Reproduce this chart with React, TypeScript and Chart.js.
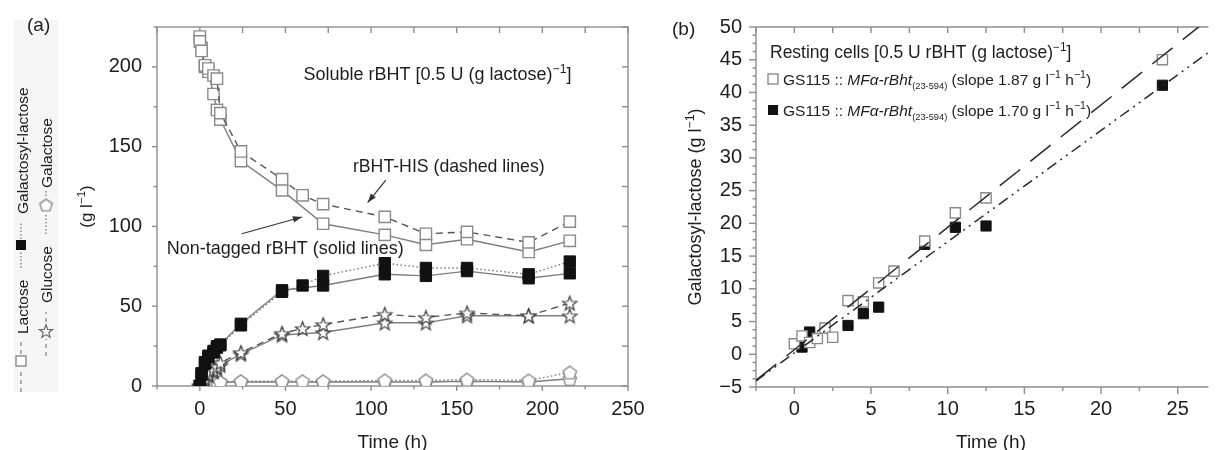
import React, { useEffect, useRef } from 'react';
import { Chart, registerables } from 'chart.js';

Chart.register(...registerables);

const FONT = '"Liberation Sans", Arial, Helvetica, sans-serif';
const INK = '#1e1e1e';
const AXIS = '#8e8e8e';

// ---------------- Panel (a): soluble rBHT time course ----------------
const timeNT = [0, 1, 3, 5, 8, 10, 12, 24, 48, 72, 108, 132, 156, 192, 216];
const timeHIS = [0, 1, 3, 5, 8, 10, 12, 24, 48, 60, 72, 108, 132, 156, 192, 216];
const lactoseNT = [219, 212, 200, 197, 183, 173, 167, 141, 122.6, 101.7, 94.7, 88.5, 92, 84, 91];
const lactoseHIS = [216, 210, 201, 199, 194.6, 192.6, 171, 147, 129.6, 119.5, 114, 106, 95.4, 96.6, 90, 103];
const galLacNT = [0, 8, 15, 19, 22, 25, 26, 39, 60, 63, 70, 69, 72, 67.5, 70.6];
const galLacHIS = [0, 7, 14, 18, 21, 24, 25.5, 38, 59, 63, 69, 77, 74, 74, 70, 78];
const glucoseNT = [0, 2, 4, 6.5, 9, 11, 13, 20, 32, 33.5, 39.6, 39.6, 44, 44, 44];
const glucoseHIS = [0, 2.5, 5, 7.5, 10, 12, 14.5, 21, 33, 36, 38.5, 45, 43, 45.8, 44, 52];
const galactoseNT = [0, 0.5, 1, 1.5, 2, 2, 2.5, 2.5, 2.5, 2.5, 2.5, 2.5, 3, 2.5, 4.5];
const galactoseHIS = [0, 0.5, 1, 1.5, 2, 2.5, 2.5, 3, 3, 3, 3, 3.5, 3.5, 4, 3.5, 8.5];

const xLabelsA = [0, 50, 100, 150, 200, 250];
const yLabelsA = [0, 50, 100, 150, 200];
const xRangeA = [-25, 250];
const yRangeA = [0, 225];

// ---------------- Panel (b): resting cells ----------------
const timeOpen = [0, 0.5, 1, 1.5, 2, 2.5, 3.5, 4.5, 5.5, 6.5, 8.5, 10.5, 12.5, 24];
const galLacOpen = [1.6, 2.8, 1.8, 2.4, 4.0, 2.6, 8.2, 8.0, 10.9, 12.7, 17.3, 21.6, 23.9, 45.0];
const timeFilled = [0.5, 1, 3.5, 4.5, 5.5, 8.5, 10.5, 12.5, 24];
const galLacFilled = [1.1, 3.4, 4.4, 6.2, 7.2, 16.8, 19.4, 19.6, 41.1];
const fitX = [-2.5, 27];
const fitOpenY = [-3.98, 51.19]; // slope 1.87
const fitFilledY = [-4.05, 46.1]; // slope 1.70

const xLabelsB = [0, 5, 10, 15, 20, 25];
const yLabelsB = [-5, 0, 5, 10, 15, 20, 25, 30, 35, 40, 45, 50];
const xRangeB = [-2.5, 27];
const yRangeB = [-5, 50];

// ---------------- helpers ----------------
type Seg = { t: string; it?: boolean; sup?: boolean; sub?: boolean };

function segFont(s: Seg, size: number) {
  const sz = s.sup ? size * 0.68 : s.sub ? size * 0.6 : size;
  return `${s.it ? 'italic ' : ''}${sz}px ${FONT}`;
}
function richWidth(ctx: CanvasRenderingContext2D, segs: Seg[], size: number) {
  let w = 0;
  for (const s of segs) {
    ctx.font = segFont(s, size);
    w += ctx.measureText(s.t).width;
  }
  return w;
}
function drawRich(ctx: CanvasRenderingContext2D, segs: Seg[], x: number, y: number, size: number, align: 'left' | 'center' = 'left') {
  const base = y + size * 0.36;
  let cx = align === 'center' ? x - richWidth(ctx, segs, size) / 2 : x;
  ctx.textAlign = 'left';
  ctx.textBaseline = 'alphabetic';
  ctx.fillStyle = INK;
  for (const s of segs) {
    ctx.font = segFont(s, size);
    const dy = s.sup ? -size * 0.4 : s.sub ? size * 0.26 : 0;
    ctx.fillText(s.t, cx, base + dy);
    cx += ctx.measureText(s.t).width;
  }
}
function drawRotated(ctx: CanvasRenderingContext2D, segs: Seg[], x: number, y: number, size: number, align: 'left' | 'center') {
  ctx.save();
  ctx.translate(x, y);
  ctx.rotate(-Math.PI / 2);
  drawRich(ctx, segs, 0, 0, size, align);
  ctx.restore();
}

function makeStar(r: number, ri: number, stroke: string) {
  const c = document.createElement('canvas');
  const s = Math.ceil(r * 2 + 4);
  c.width = s;
  c.height = s;
  const g = c.getContext('2d')!;
  g.translate(s / 2, s / 2 + r * 0.1);
  g.beginPath();
  for (let i = 0; i < 10; i++) {
    const rad = i % 2 === 0 ? r : ri;
    const a = -Math.PI / 2 + (i * Math.PI) / 5;
    const px = rad * Math.cos(a);
    const py = rad * Math.sin(a);
    if (i === 0) g.moveTo(px, py);
    else g.lineTo(px, py);
  }
  g.closePath();
  g.fillStyle = '#fff';
  g.fill();
  g.strokeStyle = stroke;
  g.lineWidth = 1.2;
  g.stroke();
  return c;
}
function makePentagon(r: number, stroke: string) {
  const c = document.createElement('canvas');
  const s = Math.ceil(r * 2 + 4);
  c.width = s;
  c.height = s;
  const g = c.getContext('2d')!;
  g.translate(s / 2, s / 2 + r * 0.1);
  g.beginPath();
  for (let i = 0; i < 5; i++) {
    const a = -Math.PI / 2 + (i * 2 * Math.PI) / 5;
    const px = r * Math.cos(a);
    const py = r * Math.sin(a);
    if (i === 0) g.moveTo(px, py);
    else g.lineTo(px, py);
  }
  g.closePath();
  g.fillStyle = '#fff';
  g.fill();
  g.strokeStyle = stroke;
  g.lineWidth = 1.4;
  g.stroke();
  return c;
}

let IMG: { star: HTMLCanvasElement; starSmall: HTMLCanvasElement; pent: HTMLCanvasElement; pentSmall: HTMLCanvasElement } | null = null;
function getImgs() {
  if (!IMG) {
    IMG = {
      star: makeStar(7.5, 3.1, '#3c3c3c'),
      starSmall: makeStar(7, 2.9, '#6a6a6a'),
      pent: makePentagon(7, '#8a8a8a'),
      pentSmall: makePentagon(6.5, '#8a8a8a'),
    };
  }
  return IMG;
}

function line(ctx: CanvasRenderingContext2D, x1: number, y1: number, x2: number, y2: number) {
  ctx.beginPath();
  ctx.moveTo(x1, y1);
  ctx.lineTo(x2, y2);
  ctx.stroke();
}
function arrow(ctx: CanvasRenderingContext2D, x1: number, y1: number, x2: number, y2: number) {
  ctx.save();
  ctx.strokeStyle = '#333';
  ctx.fillStyle = '#333';
  ctx.lineWidth = 1.2;
  line(ctx, x1, y1, x2, y2);
  const a = Math.atan2(y2 - y1, x2 - x1);
  const L = 9, W = 3.2;
  ctx.beginPath();
  ctx.moveTo(x2, y2);
  ctx.lineTo(x2 - L * Math.cos(a) + W * Math.sin(a), y2 - L * Math.sin(a) - W * Math.cos(a));
  ctx.lineTo(x2 - L * Math.cos(a) - W * Math.sin(a), y2 - L * Math.sin(a) + W * Math.cos(a));
  ctx.closePath();
  ctx.fill();
  ctx.restore();
}

const pts = (xs: number[], ys: number[]) => xs.map((x, i) => ({ x, y: ys[i] }));

function tickVals(from: number, to: number, step: number) {
  const out: number[] = [];
  for (let v = from; v <= to + 1e-9; v += step) out.push(Math.round(v * 1000) / 1000);
  return out;
}

// ---------------- plugins ----------------
const frameA = {
  id: 'frameA',
  beforeDraw(chart: any) {
    const { ctx } = chart;
    ctx.save();
    ctx.fillStyle = '#f6f6f6';
    ctx.fillRect(14, 20, 44, 372);
    ctx.restore();
  },
  beforeDatasetsDraw(chart: any) {
    const { ctx, chartArea: a, scales } = chart;
    const xs = scales.x, ys = scales.y;
    ctx.save();
    ctx.strokeStyle = AXIS;
    ctx.lineWidth = 1.4;
    ctx.strokeRect(a.left, a.top, a.right - a.left, a.bottom - a.top);
    for (const v of tickVals(xRangeA[0], xRangeA[1], 25)) {
      const px = xs.getPixelForValue(v);
      const len = v % 50 === 0 ? 5 : 3.5;
      line(ctx, px, a.bottom, px, a.bottom + len);
      line(ctx, px, a.top, px, a.top + 6);
    }
    for (const v of tickVals(yRangeA[0], yRangeA[1], 25)) {
      const py = ys.getPixelForValue(v);
      const len = v % 50 === 0 ? 5 : 3.5;
      line(ctx, a.left - len, py, a.left, py);
      line(ctx, a.right - 6, py, a.right, py);
    }
    ctx.restore();
  },
  afterDraw(chart: any) {
    const { ctx, chartArea: a, scales } = chart;
    const X = (v: number) => scales.x.getPixelForValue(v);
    const Y = (v: number) => scales.y.getPixelForValue(v);
    ctx.save();
    drawRich(ctx, [{ t: '(a)' }], 27, 24, 19);
    drawRich(ctx, [{ t: 'Time (h)' }], (a.left + a.right) / 2, 441, 19, 'center');
    drawRotated(ctx, [{ t: '(g l' }, { t: '\u22121', sup: true }, { t: ')' }], 86, (a.top + a.bottom) / 2, 17, 'center');
    drawRich(ctx, [{ t: 'Soluble rBHT [0.5 U (g lactose)' }, { t: '\u22121', sup: true }, { t: ']' }], X(60.5), Y(196), 18);
    drawRich(ctx, [{ t: 'rBHT-HIS (dashed lines)' }], X(89.4), Y(138), 17.7);
    drawRich(ctx, [{ t: 'Non-tagged rBHT (solid lines)' }], X(-19.3), Y(86.5), 18);
    arrow(ctx, X(108.6), Y(129), X(98), Y(115));
    arrow(ctx, X(24.5), Y(95.4), X(59.6), Y(105.9));

    // vertical legend
    const imgs = getImgs();
    const star = imgs.starSmall, pent = imgs.pentSmall;
    ctx.save();
    ctx.strokeStyle = '#8a8a8a';
    ctx.lineWidth = 1.3;
    ctx.setLineDash([4, 4]);
    line(ctx, 21, 392, 21, 368);
    line(ctx, 21, 354, 21, 342);
    ctx.setLineDash([1.5, 2]);
    ctx.strokeStyle = '#777';
    line(ctx, 21, 268, 21, 251);
    line(ctx, 21, 239, 21, 222);
    ctx.setLineDash([4, 4]);
    ctx.strokeStyle = '#8a8a8a';
    line(ctx, 46, 356, 46, 339);
    line(ctx, 46, 322, 46, 312);
    ctx.setLineDash([1.5, 2]);
    ctx.strokeStyle = '#777';
    line(ctx, 46, 234, 46, 214);
    line(ctx, 46, 196, 46, 190);
    ctx.setLineDash([]);
    ctx.fillStyle = '#fff';
    ctx.strokeStyle = '#8a8a8a';
    ctx.lineWidth = 1.4;
    ctx.fillRect(16, 356, 10, 10);
    ctx.strokeRect(16, 356, 10, 10);
    ctx.fillStyle = '#111';
    ctx.fillRect(16, 240, 10, 10);
    ctx.drawImage(star, 46 - star.width / 2, 331 - star.height / 2);
    ctx.drawImage(pent, 46 - pent.width / 2, 205 - pent.height / 2);
    ctx.restore();
    drawRotated(ctx, [{ t: 'Lactose' }], 22, 334, 15.5, 'left');
    drawRotated(ctx, [{ t: 'Galactosyl-lactose' }], 22, 214, 15.5, 'left');
    drawRotated(ctx, [{ t: 'Glucose' }], 46.5, 303, 15.5, 'left');
    drawRotated(ctx, [{ t: 'Galactose' }], 46.5, 188, 15.5, 'left');
    ctx.restore();
  },
};

const frameB = {
  id: 'frameB',
  beforeDatasetsDraw(chart: any) {
    const { ctx, chartArea: a, scales } = chart;
    const xs = scales.x, ys = scales.y;
    ctx.save();
    ctx.strokeStyle = AXIS;
    ctx.lineWidth = 1.4;
    line(ctx, a.left, a.top, a.right, a.top);
    line(ctx, a.left, a.top, a.left, a.bottom);
    line(ctx, a.left, a.bottom, a.right, a.bottom);
    for (const v of tickVals(xRangeB[0], 26.9, 2.5)) {
      const px = xs.getPixelForValue(v);
      const len = v % 5 === 0 ? 7 : 4;
      line(ctx, px, a.bottom, px, a.bottom + len);
      line(ctx, px, a.top, px, a.top + 6);
    }
    for (const v of tickVals(yRangeB[0], yRangeB[1], 1.25)) {
      const py = ys.getPixelForValue(v);
      const len = v % 5 === 0 ? 7 : 3.5;
      line(ctx, a.left - len, py, a.left, py);
    }
    drawRich(ctx, [{ t: 'Resting cells [0.5 U rBHT (g lactose)' }, { t: '\u22121', sup: true }, { t: ']' }], 110, 52, 17.5);
    const item = (slope: string): Seg[] => [
      { t: 'GS115 :: ' },
      { t: 'MF\u03b1-rBht', it: true },
      { t: '(23-594)', sub: true },
      { t: ' (slope ' + slope + ' g l' },
      { t: '\u22121', sup: true },
      { t: ' h' },
      { t: '\u22121', sup: true },
      { t: ')' },
    ];
    ctx.fillStyle = '#fff';
    ctx.strokeStyle = '#8a8a8a';
    ctx.lineWidth = 1.4;
    ctx.fillRect(108, 74, 10, 10);
    ctx.strokeRect(108, 74, 10, 10);
    ctx.fillStyle = '#111';
    ctx.fillRect(108, 105, 10, 10);
    drawRich(ctx, item('1.87'), 123, 79, 15.5);
    drawRich(ctx, item('1.70'), 123, 110, 15.5);
    ctx.restore();
  },
  afterDraw(chart: any) {
    const { ctx, chartArea: a } = chart;
    ctx.save();
    drawRich(ctx, [{ t: '(b)' }], 12, 28, 19);
    drawRich(ctx, [{ t: 'Time (h)' }], 331, 441, 19, 'center');
    drawRotated(ctx, [{ t: 'Galactosyl-lactose (g l' }, { t: '\u22121', sup: true }, { t: ')' }], 35, (a.top + a.bottom) / 2, 18, 'center');
    ctx.restore();
  },
};

function axisCommon(labels: number[], range: number[], padding: number, fmt: (v: number) => string) {
  return {
    type: 'linear' as const,
    min: range[0],
    max: range[1],
    grid: { display: false, drawTicks: false },
    border: { display: false },
    afterBuildTicks: (ax: any) => {
      ax.ticks = labels.map((v) => ({ value: v }));
    },
    ticks: {
      autoSkip: false,
      maxRotation: 0,
      padding,
      color: INK,
      font: { family: FONT, size: 20 },
      callback: (v: any) => fmt(Number(v)),
    },
  };
}

const fmtNum = (v: number) => (v < 0 ? '\u2212' + Math.abs(v) : String(v));

export default function App() {
  const refA = useRef<HTMLCanvasElement>(null);
  const refB = useRef<HTMLCanvasElement>(null);

  useEffect(() => {
    const imgs = getImgs();
    const openSq = { pointStyle: 'rect', pointRadius: 8, pointBackgroundColor: '#fff', pointBorderColor: '#8a8a8a', pointBorderWidth: 1.4 };
    const fillSq = { pointStyle: 'rect', pointRadius: 8, pointBackgroundColor: '#111', pointBorderColor: '#111', pointBorderWidth: 1 };
    const starPt = { pointStyle: imgs.star, pointRadius: 7 };
    const pentPt = { pointStyle: imgs.pent, pointRadius: 7 };
    const solid = { showLine: true, borderColor: '#7e7e7e', borderWidth: 1.4, borderDash: [] as number[], tension: 0, fill: false };
    const dashed = { showLine: true, borderColor: '#555', borderWidth: 1.4, borderDash: [7, 5], tension: 0, fill: false };
    const dotted = { showLine: true, borderColor: '#777', borderWidth: 1.4, borderDash: [1.5, 2.5], tension: 0, fill: false };

    const chartA = new Chart(refA.current!, {
      type: 'scatter',
      data: {
        datasets: [
          { label: 'Galactosyl-lactose (HIS)', data: pts(timeHIS, galLacHIS), ...dotted, ...fillSq },
          { label: 'Galactosyl-lactose', data: pts(timeNT, galLacNT), ...solid, ...fillSq },
          { label: 'Lactose (HIS)', data: pts(timeHIS, lactoseHIS), ...dashed, ...openSq },
          { label: 'Lactose', data: pts(timeNT, lactoseNT), ...solid, ...openSq },
          { label: 'Glucose (HIS)', data: pts(timeHIS, glucoseHIS), ...dashed, ...starPt },
          { label: 'Glucose', data: pts(timeNT, glucoseNT), ...solid, ...starPt },
          { label: 'Galactose (HIS)', data: pts(timeHIS, galactoseHIS), ...dotted, ...pentPt },
          { label: 'Galactose', data: pts(timeNT, galactoseNT), ...solid, ...pentPt },
        ] as any,
      },
      options: {
        responsive: false,
        animation: false,
        devicePixelRatio: 1,
        layout: { padding: { left: 0, top: 23, right: 32, bottom: 0 } },
        plugins: { legend: { display: false }, tooltip: { enabled: false } },
        scales: {
          x: { ...axisCommon(xLabelsA, xRangeA, 11, fmtNum), position: 'bottom', afterFit: (ax: any) => { ax.height = 64; } },
          y: { ...axisCommon(yLabelsA, yRangeA, 15, fmtNum), position: 'left', afterFit: (ax: any) => { ax.width = 157; } },
        } as any,
      },
      plugins: [frameA],
    });

    const chartB = new Chart(refB.current!, {
      type: 'scatter',
      data: {
        datasets: [
          { label: 'Fit 1.87', data: pts(fitX, fitOpenY), showLine: true, borderColor: '#2a2a2a', borderWidth: 1.5, borderDash: [26, 13], pointRadius: 0, fill: false },
          { label: 'Fit 1.70', data: pts(fitX, fitFilledY), showLine: true, borderColor: '#2a2a2a', borderWidth: 1.5, borderDash: [11, 5, 2, 5, 2, 5], pointRadius: 0, fill: false },
          { label: 'GS115 open', data: pts(timeOpen, galLacOpen), showLine: false, pointStyle: 'rect', pointRadius: 7.2, pointBackgroundColor: '#fff', pointBorderColor: '#8a8a8a', pointBorderWidth: 1.4 },
          { label: 'GS115 filled', data: pts(timeFilled, galLacFilled), showLine: false, pointStyle: 'rect', pointRadius: 7.2, pointBackgroundColor: '#111', pointBorderColor: '#111', pointBorderWidth: 1 },
        ] as any,
      },
      options: {
        responsive: false,
        animation: false,
        devicePixelRatio: 1,
        layout: { padding: { left: 0, top: 27, right: 0, bottom: 0 } },
        plugins: { legend: { display: false }, tooltip: { enabled: false } },
        scales: {
          x: { ...axisCommon(xLabelsB, xRangeB, 10, fmtNum), position: 'bottom', afterFit: (ax: any) => { ax.height = 63; } },
          y: { ...axisCommon(yLabelsB, yRangeB, 14, fmtNum), position: 'left', afterFit: (ax: any) => { ax.width = 96; } },
        } as any,
      },
      plugins: [frameB],
    });

    return () => {
      chartA.destroy();
      chartB.destroy();
    };
  }, []);

  return (
    <div style={{ position: 'absolute', left: 0, top: 0, width: 1217, height: 450, overflow: 'hidden', background: '#fff' }}>
      <canvas ref={refA} width={660} height={450} style={{ position: 'absolute', left: 0, top: 0 }} />
      <canvas ref={refB} width={557} height={450} style={{ position: 'absolute', left: 660, top: 0 }} />
    </div>
  );
}
